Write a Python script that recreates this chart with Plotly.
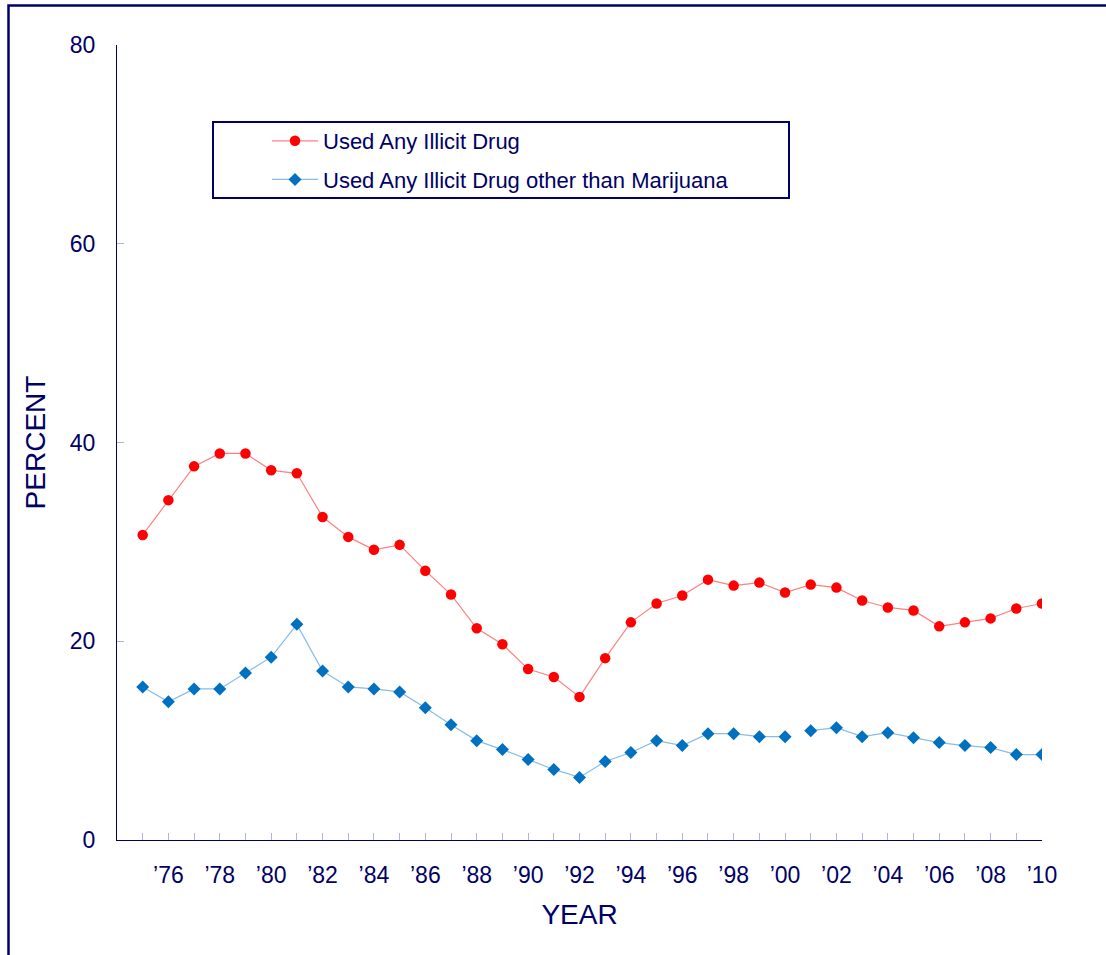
import plotly.graph_objects as go

# ---------------- data ----------------
years = [1975, 1976, 1977, 1978, 1979, 1980, 1981, 1982, 1983, 1984, 1985, 1986,
         1987, 1988, 1989, 1990, 1991, 1992, 1993, 1994, 1995, 1996, 1997, 1998,
         1999, 2000, 2001, 2002, 2003, 2004, 2005, 2006, 2007, 2008, 2009, 2010]

any_illicit = [30.7, 34.2, 37.6, 38.9, 38.9, 37.2, 36.9, 32.5, 30.5, 29.2, 29.7, 27.1,
               24.7, 21.3, 19.7, 17.2, 16.4, 14.4, 18.3, 21.9, 23.8, 24.6, 26.2, 25.6,
               25.9, 24.9, 25.7, 25.4, 24.1, 23.4, 23.1, 21.5, 21.9, 22.3, 23.3, 23.8]

other_than_mj = [15.4, 13.9, 15.2, 15.2, 16.8, 18.4, 21.7, 17.0, 15.4, 15.2, 14.9, 13.3,
                 11.6, 10.0, 9.1, 8.1, 7.1, 6.3, 7.9, 8.8, 10.0, 9.5, 10.7, 10.7,
                 10.4, 10.4, 11.0, 11.3, 10.4, 10.8, 10.3, 9.8, 9.5, 9.3, 8.6, 8.6]

# blue series line is broken between 2000 and 2001
break_year = 2001

x_tick_labels = ["", "\u201976", "", "\u201978", "", "\u201980", "", "\u201982", "", "\u201984",
                 "", "\u201986", "", "\u201988", "", "\u201990", "", "\u201992", "", "\u201994",
                 "", "\u201996", "", "\u201998", "", "\u201900", "", "\u201902", "", "\u201904",
                 "", "\u201906", "", "\u201908", "", "\u201910"]
y_ticks = [0, 20, 40, 60, 80]

name_red = "Used Any Illicit Drug"
name_blue = "Used Any Illicit Drug other than Marijuana"

# ---------------- style ----------------
NAVY = "#000066"
TICK = "#b4b4d2"
FONT = "Arial, Liberation Sans, sans-serif"

fig = go.Figure()

fig.add_trace(go.Scatter(
    x=years, y=any_illicit, name=name_red, mode="lines+markers",
    legendgroup="a",
    line=dict(color="#ff8080", width=1.2),
    marker=dict(symbol="circle", size=10.5, color="#ff0000"),
))

bi = years.index(break_year)
fig.add_trace(go.Scatter(
    x=years[:bi], y=other_than_mj[:bi], name=name_blue, mode="lines+markers",
    legendgroup="b",
    line=dict(color="#88bce6", width=1.2),
    marker=dict(symbol="diamond", size=10, color="#0070c0"),
))
fig.add_trace(go.Scatter(
    x=years[bi:], y=other_than_mj[bi:], name=name_blue, mode="lines+markers",
    legendgroup="b", showlegend=False,
    line=dict(color="#88bce6", width=1.2),
    marker=dict(symbol="diamond", size=10, color="#0070c0"),
))

# plot-area geometry (pixels) for shapes in paper coords
L, R, T, B = 117, 1042, 45, 840
W, H = R - L, B - T


def px(x):
    return (x - L) / W


def py(y):
    return (B - y) / H


shapes = [
    # legend box
    dict(type="rect", xref="paper", yref="paper",
         x0=px(213), x1=px(789), y0=py(198), y1=py(122),
         line=dict(color=NAVY, width=2), fillcolor="rgba(0,0,0,0)", layer="above"),
    # outer frame (top + left edges visible)
    dict(type="path", xref="paper", yref="paper",
         path=f"M {px(1112)} {py(5.5)} L {px(8.5)} {py(5.5)} L {px(8.5)} {py(962)}",
         line=dict(color=NAVY, width=2.5)),
]

fig.update_layout(
    width=1106, height=955,
    margin=dict(l=L, r=1106 - R, t=T, b=955 - B),
    paper_bgcolor="white", plot_bgcolor="white",
    font=dict(family=FONT, color=NAVY, size=22),
    showlegend=True,
    legend=dict(
        x=px(267), y=py(120), xanchor="left", yanchor="top",
        bgcolor="rgba(0,0,0,0)", borderwidth=0,
        font=dict(family=FONT, size=22, color=NAVY),
        itemwidth=46, traceorder="grouped", tracegroupgap=7,
    ),
    shapes=shapes,
    xaxis=dict(
        range=[1974, 2010],
        tickmode="array", tickvals=years, ticktext=x_tick_labels,
        ticks="inside", ticklen=7, tickwidth=1, tickcolor=TICK,
        showline=True, linecolor=NAVY, linewidth=1,
        showgrid=False, zeroline=False,
        tickfont=dict(family=FONT, size=23, color=NAVY),
        ticklabelstandoff=14,
        title=dict(text="YEAR", font=dict(family=FONT, size=28, color=NAVY), standoff=17),
    ),
    yaxis=dict(
        range=[0, 80],
        tickmode="array", tickvals=y_ticks,
        ticks="inside", ticklen=7, tickwidth=1, tickcolor=TICK,
        showline=True, linecolor=NAVY, linewidth=1,
        showgrid=False, zeroline=False,
        tickfont=dict(family=FONT, size=23, color=NAVY),
        ticklabelstandoff=16,
        title=dict(text="PERCENT", font=dict(family=FONT, size=28, color=NAVY), standoff=16),
    ),
)

fig.write_html("out.html", post_script="document.body.style.margin='0';",
               config={"displayModeBar": False})
